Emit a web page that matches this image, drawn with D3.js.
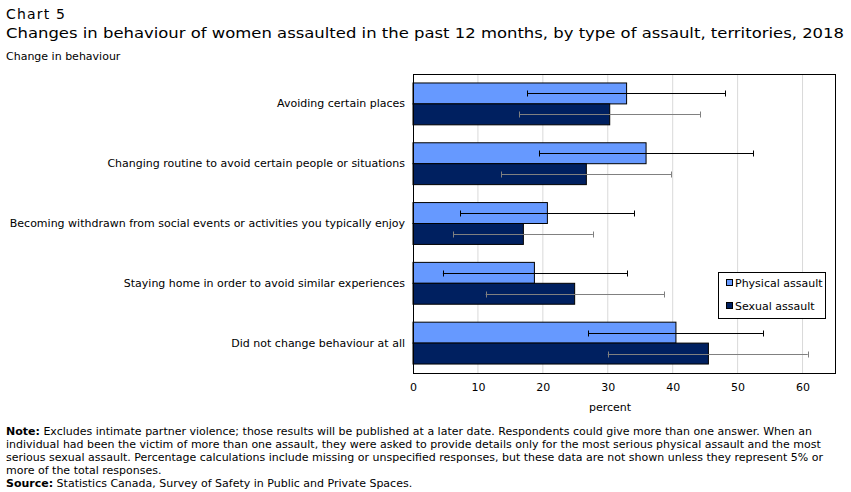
<!DOCTYPE html>
<html>
<head>
<meta charset="utf-8">
<script src="https://cdn.jsdelivr.net/npm/d3@7"></script>
<style>
  body { margin: 0; background: #fff; }
  svg text { font-family: "DejaVu Sans", Verdana, sans-serif; fill: #000; }
</style>
</head>
<body>
<div id="chart"></div>
<script>
// data
var categories = [
  'Avoiding certain places',
  'Changing routine to avoid certain people or situations',
  'Becoming withdrawn from social events or activities you typically enjoy',
  'Staying home in order to avoid similar experiences',
  'Did not change behaviour at all'
];
var seriesNames = ['Physical assault', 'Sexual assault'];
var physical = [32.9, 35.9, 20.7, 18.7, 40.5];
var physicalLow = [17.6, 19.4, 7.3, 4.6, 27.0];
var physicalHigh = [48.1, 52.4, 34.1, 33.0, 53.9];
var sexual = [30.3, 26.7, 17.0, 24.9, 45.5];
var sexualLow = [16.4, 13.6, 6.2, 11.2, 30.0];
var sexualHigh = [44.2, 39.8, 27.7, 38.7, 60.8];
var xTicks = [0, 10, 20, 30, 40, 50, 60];

var noteLines = [
  'Excludes intimate partner violence; those results will be published at a later date. Respondents could give more than one answer. When an',
  'individual had been the victim of more than one assault, they were asked to provide details only for the most serious physical assault and the most',
  'serious sexual assault. Percentage calculations include missing or unspecified responses, but these data are not shown unless they represent 5% or',
  'more of the total responses.'
];

var width = 851, height = 492;
var margin = { left: 413, right: 16, top: 74, bottom: 119 };
var colors = ['#6699ff', '#002060'];
var errColors = ['#000000', '#808080'];

var svg = d3.select('#chart').append('svg').attr('width', width).attr('height', height);

// titles
svg.append('text').attr('x', 6).attr('y', 19).style('font-size', '14px')
   .attr('textLength', 59).attr('lengthAdjust', 'spacing').text('Chart 5');
svg.append('text').attr('x', 6).attr('y', 38).style('font-size', '14px')
   .attr('textLength', 838).attr('lengthAdjust', 'spacingAndGlyphs')
   .text('Changes in behaviour of women assaulted in the past 12 months, by type of assault, territories, 2018');
svg.append('text').attr('x', 6).attr('y', 60).style('font-size', '11px').text('Change in behaviour');

var x = d3.scaleLinear().domain([0, 65]).range([margin.left, width - margin.right]);
var y = d3.scaleBand().domain(categories).range([margin.top, height - margin.bottom])
  .paddingInner(0.3).paddingOuter(0.15);
var y1 = d3.scaleBand().domain([0, 1]).range([0, y.bandwidth()]);

// gridlines
svg.append('g').selectAll('line').data(xTicks.slice(1))
  .enter().append('line')
  .attr('x1', function (d) { return x(d); }).attr('x2', function (d) { return x(d); })
  .attr('y1', margin.top).attr('y2', height - margin.bottom)
  .attr('stroke', '#d9d9d9').attr('stroke-width', 1);

var rows = categories.map(function (c, i) {
  return [
    { cat: c, s: 0, v: physical[i], lo: physicalLow[i], hi: physicalHigh[i] },
    { cat: c, s: 1, v: sexual[i], lo: sexualLow[i], hi: sexualHigh[i] }
  ];
});
var flat = [].concat.apply([], rows);

svg.append('g').selectAll('rect').data(flat).enter().append('rect')
  .attr('x', x(0))
  .attr('y', function (d) { return y(d.cat) + y1(d.s); })
  .attr('width', function (d) { return x(d.v) - x(0); })
  .attr('height', y1.bandwidth())
  .attr('fill', function (d) { return colors[d.s]; })
  .attr('stroke', '#000').attr('stroke-width', 1);

// error bars
var eb = svg.append('g').selectAll('g').data(flat).enter().append('g')
  .attr('stroke', function (d) { return errColors[d.s]; }).attr('stroke-width', 1);
function cy(d) { return Math.round(y(d.cat) + y1(d.s) + y1.bandwidth() / 2) + 0.5; }
eb.append('line')
  .attr('x1', function (d) { return x(d.lo); }).attr('x2', function (d) { return x(d.hi); })
  .attr('y1', cy).attr('y2', cy);
eb.append('line')
  .attr('x1', function (d) { return Math.round(x(d.lo)) + 0.5; }).attr('x2', function (d) { return Math.round(x(d.lo)) + 0.5; })
  .attr('y1', function (d) { return cy(d) - 3; }).attr('y2', function (d) { return cy(d) + 3; });
eb.append('line')
  .attr('x1', function (d) { return Math.round(x(d.hi)) + 0.5; }).attr('x2', function (d) { return Math.round(x(d.hi)) + 0.5; })
  .attr('y1', function (d) { return cy(d) - 3; }).attr('y2', function (d) { return cy(d) + 3; });

// plot frame
svg.append('rect')
  .attr('x', margin.left + 0.5).attr('y', margin.top + 0.5)
  .attr('width', width - margin.right - margin.left).attr('height', height - margin.bottom - margin.top)
  .attr('fill', 'none').attr('stroke', '#000');

// x axis
var xAxis = svg.append('g')
  .attr('transform', 'translate(0,' + (height - margin.bottom) + ')')
  .call(d3.axisBottom(x).tickValues(xTicks).tickSize(0).tickPadding(10));
xAxis.select('.domain').remove();
xAxis.selectAll('text').style('font-size', '11px').style('font-family', '"DejaVu Sans", Verdana, sans-serif');

svg.append('text').attr('x', 610).attr('y', 411).attr('text-anchor', 'middle')
  .style('font-size', '11px').text('percent');

// y axis labels
var yAxis = svg.append('g')
  .attr('transform', 'translate(' + margin.left + ',0)')
  .call(d3.axisLeft(y).tickSize(0).tickPadding(8));
yAxis.select('.domain').remove();
yAxis.selectAll('text').style('font-size', '11px').style('font-family', '"DejaVu Sans", Verdana, sans-serif');

// legend
var lg = svg.append('g').attr('transform', 'translate(718,272)');
lg.append('rect').attr('x', 0.5).attr('y', 0.5).attr('width', 107).attr('height', 46)
  .attr('fill', '#fff').attr('stroke', '#000');
seriesNames.forEach(function (n, i) {
  var ly = 11 + i * 23;
  lg.append('rect').attr('x', 8.5).attr('y', ly - 3.5).attr('width', 6).attr('height', 6)
    .attr('fill', colors[i]).attr('stroke', '#000');
  lg.append('text').attr('x', 17).attr('y', ly + 4).style('font-size', '11px').text(n);
});

// notes
var notes = svg.append('text').attr('x', 6).attr('y', 435).style('font-size', '11px');
notes.append('tspan').style('font-weight', 'bold').text('Note:');
notes.append('tspan').text(' ' + noteLines[0]);
noteLines.slice(1).forEach(function (l, i) {
  svg.append('text').attr('x', 6).attr('y', 448 + i * 13).style('font-size', '11px').text(l);
});
var src = svg.append('text').attr('x', 6).attr('y', 487).style('font-size', '11px');
src.append('tspan').style('font-weight', 'bold').text('Source:');
src.append('tspan').text(' Statistics Canada, Survey of Safety in Public and Private Spaces.');
</script>
</body>
</html>
